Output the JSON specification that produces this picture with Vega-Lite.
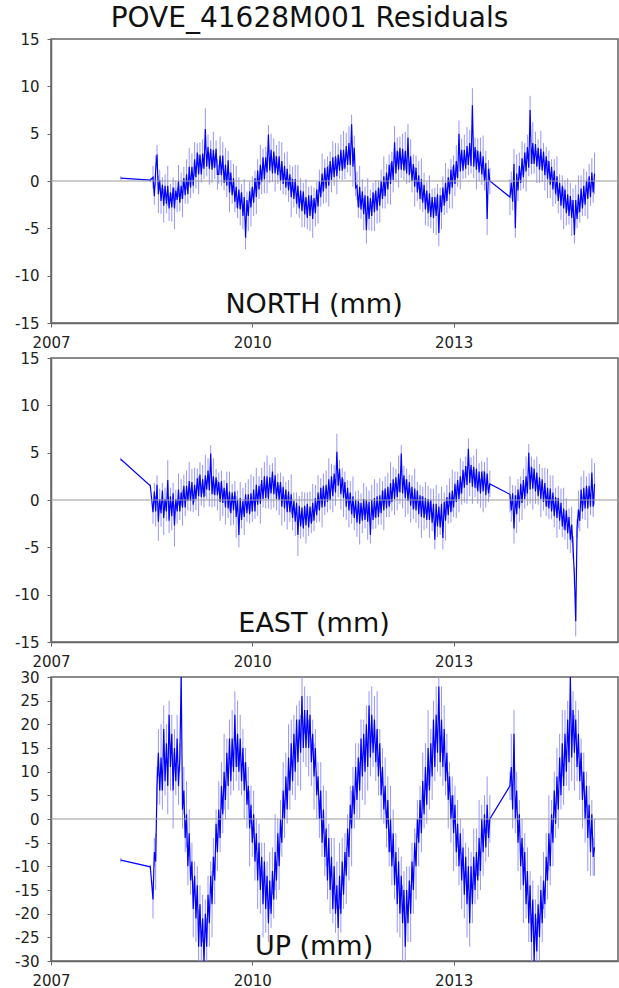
{
"$schema":"https://vega.github.io/schema/vega-lite/v6.json",
"padding":{"left":13,"top":5,"right":2,"bottom":0},
"title":{"text":"POVE_41628M001 Residuals","font":"DejaVu Sans","fontSize":28,"fontWeight":"normal","color":"#111","anchor":"middle","dx":-7,"baseline":"alphabetic","offset":-24},
"spacing":35,
"bounds":"flush",
"config":{
 "font":"DejaVu Sans",
 "view":{"stroke":"#666","strokeWidth":1.5},
 "axis":{"labelFont":"DejaVu Sans","labelFontSize":15,"labelColor":"#222","tickColor":"#666","tickWidth":1,"tickSize":4,"domainColor":"#666","domainWidth":1.5,"grid":false,"labelFlush":false,"title":null,"labelExpr":"replace(datum.label,'\u2212','-')"}
},
"datasets":{"gps":[
{"t":2008.04,"n":0.3,"e":4.3,"u":-8.7,"s":0.2,"v":0.5},
{"t":2008.48,"n":0.1,"e":1.5,"u":-10.1,"s":0.2,"v":0.5},
{"t":2008.52,"n":0.4,"e":-1.3,"u":-17,"s":1.2,"v":4},
{"t":2008.54,"n":-1.6,"e":0.9,"u":-7,"s":0.9,"v":3},
{"t":2008.56,"n":1.1,"e":-1.2,"u":-9,"s":1.6,"v":6},
{"t":2008.58,"n":2.8,"e":1.6,"u":7,"s":1.0,"v":4},
{"t":2008.60,"n":-1.4,"e":-2.3,"u":14,"s":2.0,"v":5},
{"t":2008.62,"n":0.1,"e":0.1,"u":6,"s":1.1,"v":3},
{"t":2008.64,"n":-2.1,"e":-1.4,"u":13,"s":1.4,"v":7},
{"t":2008.66,"n":-0.4,"e":1.0,"u":6,"s":0.8,"v":4},
{"t":2008.68,"n":-2.6,"e":-1.9,"u":19,"s":1.8,"v":5},
{"t":2008.70,"n":-0.5,"e":0.1,"u":8,"s":1.2,"v":3},
{"t":2008.72,"n":-2.4,"e":-1.2,"u":16,"s":1.0,"v":4},
{"t":2008.74,"n":-0.5,"e":2.1,"u":7,"s":2.1,"v":6},
{"t":2008.76,"n":-2.9,"e":-2.2,"u":22,"s":1.3,"v":3},
{"t":2008.78,"n":-1.2,"e":0.4,"u":11,"s":0.9,"v":5},
{"t":2008.80,"n":-2.8,"e":-1.7,"u":18,"s":1.5,"v":4},
{"t":2008.82,"n":-0.7,"e":0.7,"u":6,"s":1.1,"v":8},
{"t":2008.84,"n":-2.9,"e":-2.7,"u":15,"s":2.2,"v":4},
{"t":2008.86,"n":-1.0,"e":0.1,"u":8,"s":1.0,"v":3},
{"t":2008.88,"n":-2.0,"e":-1.2,"u":17,"s":1.3,"v":5},
{"t":2008.90,"n":0.0,"e":1.1,"u":7,"s":1.7,"v":4},
{"t":2008.92,"n":-2.3,"e":-1.2,"u":13,"s":0.9,"v":3},
{"t":2008.94,"n":-0.5,"e":0.8,"u":30,"s":1.4,"v":6},
{"t":2008.96,"n":-1.9,"e":-0.8,"u":2,"s":1.9,"v":4},
{"t":2008.98,"n":0.3,"e":1.5,"u":6,"s":1.2,"v":5},
{"t":2009.00,"n":-1.5,"e":-0.8,"u":-4,"s":0.9,"v":3},
{"t":2009.02,"n":0.7,"e":1.5,"u":1,"s":1.6,"v":7},
{"t":2009.04,"n":-1.4,"e":-0.1,"u":-10,"s":1.0,"v":4},
{"t":2009.06,"n":1.5,"e":2.0,"u":-3,"s":2.0,"v":5},
{"t":2009.08,"n":-0.7,"e":-0.1,"u":-13,"s":1.1,"v":3},
{"t":2009.10,"n":1.5,"e":1.9,"u":-9,"s":1.4,"v":4},
{"t":2009.12,"n":-0.5,"e":-0.5,"u":-19,"s":0.8,"v":6},
{"t":2009.14,"n":2.3,"e":1.6,"u":-12,"s":1.8,"v":3},
{"t":2009.16,"n":0.4,"e":0.1,"u":-21,"s":1.2,"v":5},
{"t":2009.18,"n":3.0,"e":2.3,"u":-14,"s":1.0,"v":4},
{"t":2009.20,"n":0.7,"e":0.4,"u":-27,"s":2.1,"v":8},
{"t":2009.22,"n":2.8,"e":2.7,"u":-18,"s":1.3,"v":4},
{"t":2009.24,"n":0.7,"e":0.3,"u":-27,"s":0.9,"v":3},
{"t":2009.26,"n":2.9,"e":2.2,"u":-21,"s":1.5,"v":5},
{"t":2009.28,"n":1.3,"e":0.3,"u":-30,"s":1.1,"v":4},
{"t":2009.30,"n":5.5,"e":2.6,"u":-20,"s":2.2,"v":3},
{"t":2009.32,"n":1.5,"e":1.1,"u":-27,"s":1.0,"v":6},
{"t":2009.34,"n":3.6,"e":3.1,"u":-16,"s":1.3,"v":4},
{"t":2009.36,"n":1.3,"e":1.0,"u":-22,"s":1.7,"v":5},
{"t":2009.38,"n":3.4,"e":4.9,"u":-12,"s":0.9,"v":3},
{"t":2009.40,"n":1.2,"e":0.6,"u":-18,"s":1.4,"v":7},
{"t":2009.42,"n":3.3,"e":2.5,"u":-8,"s":1.9,"v":4},
{"t":2009.44,"n":1.4,"e":0.5,"u":-13,"s":1.2,"v":5},
{"t":2009.46,"n":3.4,"e":2.4,"u":-1,"s":0.9,"v":3},
{"t":2009.48,"n":0.7,"e":0.5,"u":-7,"s":1.6,"v":4},
{"t":2009.50,"n":0.7,"e":1.9,"u":2,"s":1.0,"v":6},
{"t":2009.52,"n":2.7,"e":-0.2,"u":-4,"s":2.0,"v":3},
{"t":2009.54,"n":0.6,"e":2.0,"u":7,"s":1.1,"v":5},
{"t":2009.56,"n":2.7,"e":-0.3,"u":1,"s":1.4,"v":4},
{"t":2009.58,"n":-0.2,"e":1.3,"u":10,"s":0.8,"v":8},
{"t":2009.60,"n":1.7,"e":-0.8,"u":4,"s":1.8,"v":4},
{"t":2009.62,"n":-0.5,"e":1.8,"u":14,"s":1.2,"v":3},
{"t":2009.64,"n":2.2,"e":-0.9,"u":7,"s":1.0,"v":5},
{"t":2009.66,"n":-1.2,"e":0.9,"u":17,"s":2.1,"v":4},
{"t":2009.68,"n":0.9,"e":-1.4,"u":8,"s":1.3,"v":3},
{"t":2009.70,"n":-1.5,"e":0.8,"u":17,"s":0.9,"v":6},
{"t":2009.72,"n":0.3,"e":-1.1,"u":10,"s":1.5,"v":4},
{"t":2009.74,"n":-2.2,"e":0.9,"u":22,"s":1.1,"v":5},
{"t":2009.76,"n":-0.6,"e":-1.8,"u":11,"s":2.2,"v":3},
{"t":2009.78,"n":-2.9,"e":0.0,"u":18,"s":1.0,"v":7},
{"t":2009.80,"n":-0.9,"e":-3.7,"u":10,"s":1.3,"v":4},
{"t":2009.82,"n":-3.0,"e":0.2,"u":17,"s":1.7,"v":5},
{"t":2009.84,"n":-1.2,"e":-2.1,"u":8,"s":0.9,"v":3},
{"t":2009.86,"n":-3.7,"e":-0.1,"u":15,"s":1.4,"v":4},
{"t":2009.88,"n":-1.7,"e":-1.8,"u":6,"s":1.9,"v":6},
{"t":2009.90,"n":-6.0,"e":0.6,"u":12,"s":1.2,"v":3},
{"t":2009.92,"n":-2.0,"e":-1.4,"u":3,"s":0.9,"v":5},
{"t":2009.94,"n":-3.7,"e":0.6,"u":7,"s":1.6,"v":4},
{"t":2009.96,"n":-1.1,"e":-1.5,"u":-2,"s":1.0,"v":8},
{"t":2009.98,"n":-2.8,"e":0.7,"u":3,"s":2.0,"v":4},
{"t":2010.00,"n":-0.6,"e":-1.2,"u":-5,"s":1.1,"v":3},
{"t":2010.02,"n":-2.3,"e":1.1,"u":1,"s":1.4,"v":5},
{"t":2010.04,"n":0.3,"e":-1.2,"u":-9,"s":0.8,"v":4},
{"t":2010.06,"n":-1.7,"e":1.6,"u":-3,"s":1.8,"v":3},
{"t":2010.08,"n":1.1,"e":-0.5,"u":-13,"s":1.2,"v":6},
{"t":2010.10,"n":-0.9,"e":1.5,"u":-5,"s":1.0,"v":4},
{"t":2010.12,"n":1.7,"e":-0.4,"u":-15,"s":2.1,"v":5},
{"t":2010.14,"n":-0.1,"e":2.1,"u":-8,"s":1.3,"v":3},
{"t":2010.16,"n":2.5,"e":0.1,"u":-18,"s":0.9,"v":7},
{"t":2010.18,"n":0.2,"e":2.5,"u":-9,"s":1.5,"v":4},
{"t":2010.20,"n":2.5,"e":0.2,"u":-19,"s":1.1,"v":5},
{"t":2010.22,"n":0.9,"e":2.5,"u":-12,"s":2.2,"v":3},
{"t":2010.24,"n":4.9,"e":0.1,"u":-22,"s":1.0,"v":4},
{"t":2010.26,"n":1.1,"e":2.4,"u":-13,"s":1.3,"v":6},
{"t":2010.28,"n":3.3,"e":0.7,"u":-20,"s":1.7,"v":3},
{"t":2010.30,"n":0.8,"e":3.0,"u":-11,"s":0.9,"v":5},
{"t":2010.32,"n":3.1,"e":0.6,"u":-17,"s":1.4,"v":4},
{"t":2010.34,"n":0.8,"e":2.6,"u":-7,"s":1.9,"v":8},
{"t":2010.36,"n":2.6,"e":0.1,"u":-13,"s":1.2,"v":4},
{"t":2010.38,"n":0.6,"e":1.9,"u":-3,"s":0.9,"v":3},
{"t":2010.40,"n":2.6,"e":0.0,"u":-10,"s":1.6,"v":5},
{"t":2010.42,"n":0.0,"e":1.9,"u":0,"s":1.0,"v":4},
{"t":2010.44,"n":2.1,"e":-0.7,"u":-5,"s":2.0,"v":3},
{"t":2010.46,"n":-0.3,"e":1.4,"u":6,"s":1.1,"v":6},
{"t":2010.48,"n":1.6,"e":-0.9,"u":0,"s":1.4,"v":4},
{"t":2010.50,"n":-0.7,"e":1.1,"u":9,"s":0.8,"v":5},
{"t":2010.52,"n":1.3,"e":-1.3,"u":2,"s":1.8,"v":3},
{"t":2010.54,"n":-1.0,"e":0.9,"u":13,"s":1.2,"v":7},
{"t":2010.56,"n":0.7,"e":-1.3,"u":6,"s":1.0,"v":4},
{"t":2010.58,"n":-1.7,"e":0.6,"u":16,"s":2.1,"v":5},
{"t":2010.60,"n":0.2,"e":-1.9,"u":8,"s":1.3,"v":3},
{"t":2010.62,"n":-1.9,"e":-0.1,"u":18,"s":0.9,"v":4},
{"t":2010.64,"n":0.2,"e":-2.3,"u":10,"s":1.5,"v":6},
{"t":2010.66,"n":-2.4,"e":-0.3,"u":21,"s":1.1,"v":3},
{"t":2010.68,"n":-0.5,"e":-3.7,"u":12,"s":2.2,"v":5},
{"t":2010.70,"n":-2.9,"e":-0.6,"u":21,"s":1.0,"v":4},
{"t":2010.72,"n":-1.0,"e":-2.8,"u":14,"s":1.3,"v":8},
{"t":2010.74,"n":-3.2,"e":-0.8,"u":26,"s":1.7,"v":4},
{"t":2010.76,"n":-1.1,"e":-3.0,"u":15,"s":0.9,"v":3},
{"t":2010.78,"n":-3.5,"e":-0.6,"u":23,"s":1.4,"v":5},
{"t":2010.80,"n":-1.7,"e":-2.7,"u":15,"s":1.9,"v":4},
{"t":2010.82,"n":-3.9,"e":-0.4,"u":23,"s":1.2,"v":3},
{"t":2010.84,"n":-1.5,"e":-2.9,"u":15,"s":0.9,"v":6},
{"t":2010.86,"n":-3.7,"e":-0.7,"u":22,"s":1.6,"v":4},
{"t":2010.88,"n":-1.5,"e":-2.5,"u":12,"s":1.0,"v":5},
{"t":2010.90,"n":-4.0,"e":-0.3,"u":18,"s":2.0,"v":3},
{"t":2010.92,"n":-1.8,"e":-2.2,"u":9,"s":1.1,"v":7},
{"t":2010.94,"n":-3.4,"e":0.2,"u":15,"s":1.4,"v":4},
{"t":2010.96,"n":-0.9,"e":-1.6,"u":5,"s":0.8,"v":5},
{"t":2010.98,"n":-2.7,"e":0.8,"u":9,"s":1.8,"v":3},
{"t":2011.00,"n":0.0,"e":-1.1,"u":0,"s":1.2,"v":4},
{"t":2011.02,"n":-1.7,"e":1.3,"u":6,"s":1.0,"v":6},
{"t":2011.04,"n":0.8,"e":-0.8,"u":-5,"s":2.1,"v":3},
{"t":2011.06,"n":-1.1,"e":1.5,"u":2,"s":1.3,"v":5},
{"t":2011.08,"n":1.4,"e":-0.7,"u":-8,"s":0.9,"v":4},
{"t":2011.10,"n":-0.8,"e":1.6,"u":-2,"s":1.5,"v":8},
{"t":2011.12,"n":1.5,"e":-0.2,"u":-13,"s":1.1,"v":4},
{"t":2011.14,"n":-0.5,"e":2.2,"u":-4,"s":2.2,"v":3},
{"t":2011.16,"n":2.1,"e":0.0,"u":-15,"s":1.0,"v":5},
{"t":2011.18,"n":0.1,"e":2.5,"u":-8,"s":1.3,"v":4},
{"t":2011.20,"n":2.5,"e":0.4,"u":-19,"s":1.7,"v":3},
{"t":2011.22,"n":0.4,"e":2.8,"u":-10,"s":0.9,"v":6},
{"t":2011.24,"n":2.6,"e":0.8,"u":-20,"s":1.4,"v":4},
{"t":2011.26,"n":0.5,"e":5.1,"u":-14,"s":1.9,"v":5},
{"t":2011.28,"n":2.8,"e":1.5,"u":-23,"s":1.2,"v":3},
{"t":2011.30,"n":1.1,"e":3.3,"u":-12,"s":0.9,"v":7},
{"t":2011.32,"n":3.3,"e":0.6,"u":-20,"s":1.6,"v":4},
{"t":2011.34,"n":1.1,"e":2.4,"u":-9,"s":1.0,"v":5},
{"t":2011.36,"n":3.3,"e":0.2,"u":-16,"s":2.0,"v":3},
{"t":2011.38,"n":1.3,"e":1.9,"u":-7,"s":1.1,"v":4},
{"t":2011.40,"n":3.7,"e":-0.7,"u":-12,"s":1.4,"v":6},
{"t":2011.42,"n":1.7,"e":1.3,"u":-2,"s":0.8,"v":3},
{"t":2011.44,"n":4.0,"e":-1.1,"u":-8,"s":1.8,"v":5},
{"t":2011.46,"n":1.7,"e":0.8,"u":3,"s":1.2,"v":4},
{"t":2011.48,"n":6.0,"e":-1.5,"u":-2,"s":1.0,"v":8},
{"t":2011.50,"n":1.5,"e":0.4,"u":7,"s":2.1,"v":4},
{"t":2011.52,"n":3.5,"e":-1.9,"u":1,"s":1.3,"v":3},
{"t":2011.54,"n":-0.7,"e":0.0,"u":11,"s":0.9,"v":5},
{"t":2011.56,"n":-0.5,"e":-2.4,"u":4,"s":1.5,"v":4},
{"t":2011.58,"n":-2.8,"e":-0.1,"u":13,"s":1.1,"v":3},
{"t":2011.60,"n":-0.6,"e":-2.5,"u":6,"s":2.2,"v":6},
{"t":2011.62,"n":-3.0,"e":-0.3,"u":17,"s":1.0,"v":4},
{"t":2011.64,"n":-1.1,"e":-2.2,"u":9,"s":1.3,"v":5},
{"t":2011.66,"n":-3.5,"e":0.1,"u":18,"s":1.7,"v":3},
{"t":2011.68,"n":-1.5,"e":-2.1,"u":10,"s":0.9,"v":7},
{"t":2011.70,"n":-5.2,"e":0.0,"u":20,"s":1.4,"v":4},
{"t":2011.72,"n":-1.6,"e":-2.3,"u":11,"s":1.9,"v":5},
{"t":2011.74,"n":-4.0,"e":-0.2,"u":24,"s":1.2,"v":3},
{"t":2011.76,"n":-1.8,"e":-3.7,"u":13,"s":0.9,"v":4},
{"t":2011.78,"n":-3.7,"e":0.0,"u":22,"s":1.6,"v":6},
{"t":2011.80,"n":-1.2,"e":-2.1,"u":14,"s":1.0,"v":3},
{"t":2011.82,"n":-3.3,"e":0.2,"u":21,"s":2.0,"v":5},
{"t":2011.84,"n":-1.0,"e":-1.9,"u":12,"s":1.1,"v":4},
{"t":2011.86,"n":-3.1,"e":0.4,"u":19,"s":1.4,"v":8},
{"t":2011.88,"n":-0.7,"e":-1.8,"u":9,"s":0.8,"v":4},
{"t":2011.90,"n":-2.6,"e":0.5,"u":16,"s":1.8,"v":3},
{"t":2011.92,"n":0.0,"e":-1.4,"u":5,"s":1.2,"v":5},
{"t":2011.94,"n":-1.9,"e":1.0,"u":11,"s":1.0,"v":4},
{"t":2011.96,"n":0.5,"e":-1.1,"u":2,"s":2.1,"v":3},
{"t":2011.98,"n":-1.6,"e":1.2,"u":7,"s":1.3,"v":6},
{"t":2012.00,"n":0.9,"e":-0.9,"u":-2,"s":0.9,"v":4},
{"t":2012.02,"n":-0.9,"e":1.4,"u":4,"s":1.5,"v":5},
{"t":2012.04,"n":1.7,"e":-0.7,"u":-7,"s":1.1,"v":3},
{"t":2012.06,"n":-0.3,"e":1.8,"u":0,"s":2.2,"v":7},
{"t":2012.08,"n":2.1,"e":-0.2,"u":-10,"s":1.0,"v":4},
{"t":2012.10,"n":0.1,"e":2.2,"u":-3,"s":1.3,"v":5},
{"t":2012.12,"n":4.1,"e":0.1,"u":-14,"s":1.7,"v":3},
{"t":2012.14,"n":0.8,"e":2.4,"u":-7,"s":0.9,"v":4},
{"t":2012.16,"n":3.2,"e":0.3,"u":-18,"s":1.4,"v":6},
{"t":2012.18,"n":1.2,"e":2.8,"u":-9,"s":1.9,"v":3},
{"t":2012.20,"n":3.5,"e":0.8,"u":-20,"s":1.2,"v":5},
{"t":2012.22,"n":1.2,"e":4.9,"u":-12,"s":0.9,"v":4},
{"t":2012.24,"n":3.4,"e":0.7,"u":-22,"s":1.6,"v":8},
{"t":2012.26,"n":1.1,"e":2.6,"u":-15,"s":1.0,"v":4},
{"t":2012.28,"n":3.2,"e":0.2,"u":-27,"s":2.0,"v":3},
{"t":2012.30,"n":0.8,"e":2.2,"u":-15,"s":1.1,"v":5},
{"t":2012.32,"n":4.6,"e":-0.1,"u":-22,"s":1.4,"v":4},
{"t":2012.34,"n":0.6,"e":1.9,"u":-13,"s":0.8,"v":3},
{"t":2012.36,"n":2.6,"e":-0.6,"u":-20,"s":1.8,"v":6},
{"t":2012.38,"n":0.0,"e":1.4,"u":-9,"s":1.2,"v":4},
{"t":2012.40,"n":1.8,"e":-1.0,"u":-15,"s":1.0,"v":5},
{"t":2012.42,"n":-0.6,"e":1.2,"u":-5,"s":2.1,"v":3},
{"t":2012.44,"n":1.4,"e":-1.1,"u":-10,"s":1.3,"v":7},
{"t":2012.46,"n":-1.2,"e":1.0,"u":0,"s":0.9,"v":4},
{"t":2012.48,"n":0.6,"e":-1.5,"u":-5,"s":1.5,"v":5},
{"t":2012.50,"n":-1.9,"e":0.5,"u":4,"s":1.1,"v":3},
{"t":2012.52,"n":0.2,"e":-1.8,"u":-3,"s":2.2,"v":4},
{"t":2012.54,"n":-2.3,"e":0.4,"u":8,"s":1.0,"v":6},
{"t":2012.56,"n":-0.4,"e":-1.9,"u":1,"s":1.3,"v":3},
{"t":2012.58,"n":-3.0,"e":0.2,"u":11,"s":1.7,"v":5},
{"t":2012.60,"n":-1.0,"e":-2.1,"u":3,"s":0.9,"v":4},
{"t":2012.62,"n":-3.4,"e":0.1,"u":15,"s":1.4,"v":8},
{"t":2012.64,"n":-1.3,"e":-2.1,"u":6,"s":1.9,"v":4},
{"t":2012.66,"n":-3.8,"e":0.0,"u":16,"s":1.2,"v":3},
{"t":2012.68,"n":-1.7,"e":-2.4,"u":9,"s":0.9,"v":5},
{"t":2012.70,"n":-3.9,"e":-0.4,"u":21,"s":1.6,"v":4},
{"t":2012.72,"n":-1.7,"e":-4.2,"u":11,"s":1.0,"v":3},
{"t":2012.74,"n":-3.7,"e":-0.4,"u":22,"s":2.0,"v":6},
{"t":2012.76,"n":-1.4,"e":-2.8,"u":14,"s":1.1,"v":4},
{"t":2012.78,"n":-5.5,"e":-0.7,"u":28,"s":1.4,"v":5},
{"t":2012.80,"n":-1.5,"e":-2.9,"u":12,"s":0.8,"v":3},
{"t":2012.82,"n":-3.3,"e":-0.4,"u":21,"s":1.8,"v":7},
{"t":2012.84,"n":-0.7,"e":-4.0,"u":11,"s":1.2,"v":4},
{"t":2012.86,"n":-2.6,"e":-0.2,"u":19,"s":1.0,"v":5},
{"t":2012.88,"n":-0.2,"e":-2.2,"u":8,"s":2.1,"v":3},
{"t":2012.90,"n":-2.1,"e":0.3,"u":14,"s":1.3,"v":4},
{"t":2012.92,"n":0.4,"e":-1.6,"u":4,"s":0.9,"v":6},
{"t":2012.94,"n":-1.4,"e":0.8,"u":9,"s":1.5,"v":3},
{"t":2012.96,"n":1.2,"e":-1.3,"u":0,"s":1.1,"v":5},
{"t":2012.98,"n":-0.7,"e":1.0,"u":5,"s":2.2,"v":4},
{"t":2013.00,"n":1.7,"e":-0.8,"u":-3,"s":1.0,"v":8},
{"t":2013.02,"n":-0.3,"e":1.7,"u":3,"s":1.3,"v":4},
{"t":2013.04,"n":2.1,"e":-0.2,"u":-7,"s":1.7,"v":3},
{"t":2013.06,"n":0.3,"e":2.1,"u":-1,"s":0.9,"v":5},
{"t":2013.08,"n":5.0,"e":0.1,"u":-10,"s":1.4,"v":4},
{"t":2013.10,"n":1.0,"e":2.5,"u":-3,"s":1.9,"v":3},
{"t":2013.12,"n":3.3,"e":0.7,"u":-13,"s":1.2,"v":6},
{"t":2013.14,"n":1.1,"e":3.2,"u":-6,"s":0.9,"v":4},
{"t":2013.16,"n":3.3,"e":1.3,"u":-16,"s":1.6,"v":5},
{"t":2013.18,"n":1.3,"e":3.6,"u":-8,"s":1.0,"v":3},
{"t":2013.20,"n":3.7,"e":1.6,"u":-18,"s":2.0,"v":7},
{"t":2013.22,"n":1.7,"e":5.4,"u":-10,"s":1.1,"v":4},
{"t":2013.24,"n":4.0,"e":1.8,"u":-22,"s":1.4,"v":5},
{"t":2013.26,"n":1.6,"e":3.7,"u":-10,"s":0.8,"v":3},
{"t":2013.28,"n":8.0,"e":1.4,"u":-18,"s":1.8,"v":4},
{"t":2013.30,"n":1.5,"e":3.5,"u":-8,"s":1.2,"v":6},
{"t":2013.32,"n":3.6,"e":1.3,"u":-15,"s":1.0,"v":3},
{"t":2013.34,"n":1.2,"e":3.3,"u":-7,"s":2.1,"v":5},
{"t":2013.36,"n":3.2,"e":0.9,"u":-13,"s":1.3,"v":4},
{"t":2013.38,"n":0.9,"e":3.0,"u":-4,"s":0.9,"v":8},
{"t":2013.40,"n":3.1,"e":0.7,"u":-11,"s":1.5,"v":4},
{"t":2013.42,"n":0.7,"e":3.0,"u":0,"s":1.1,"v":3},
{"t":2013.44,"n":2.6,"e":0.9,"u":-7,"s":2.2,"v":5},
{"t":2013.46,"n":0.0,"e":3.0,"u":1,"s":1.0,"v":4},
{"t":2013.48,"n":1.9,"e":0.5,"u":-6,"s":1.3,"v":3},
{"t":2013.50,"n":-4.0,"e":2.8,"u":3,"s":1.7,"v":6},
{"t":2013.52,"n":1.3,"e":0.7,"u":-4,"s":0.9,"v":4},
{"t":2013.54,"n":0.0,"e":1.7,"u":0,"s":1.4,"v":5},
{"t":2013.84,"n":-1.7,"e":0.6,"u":7,"s":1.9,"v":3},
{"t":2013.86,"n":-0.2,"e":-1.1,"u":11,"s":1.2,"v":7},
{"t":2013.88,"n":-2.2,"e":0.7,"u":2,"s":0.9,"v":4},
{"t":2013.90,"n":1.8,"e":-3.0,"u":18,"s":1.6,"v":5},
{"t":2013.92,"n":-5.0,"e":0.5,"u":0,"s":1.0,"v":3},
{"t":2013.94,"n":0.8,"e":-1.5,"u":6,"s":2.0,"v":4},
{"t":2013.96,"n":-1.0,"e":1.1,"u":-5,"s":1.1,"v":6},
{"t":2013.98,"n":1.6,"e":-0.9,"u":1,"s":1.4,"v":3},
{"t":2014.00,"n":-0.2,"e":1.7,"u":-10,"s":0.8,"v":5},
{"t":2014.02,"n":2.4,"e":-0.3,"u":-4,"s":1.8,"v":4},
{"t":2014.04,"n":0.4,"e":2.1,"u":-14,"s":1.2,"v":8},
{"t":2014.06,"n":3.0,"e":0.1,"u":-7,"s":1.0,"v":4},
{"t":2014.08,"n":1.0,"e":2.5,"u":-18,"s":2.1,"v":3},
{"t":2014.10,"n":3.6,"e":0.7,"u":-11,"s":1.3,"v":5},
{"t":2014.12,"n":1.4,"e":5.0,"u":-22,"s":0.9,"v":4},
{"t":2014.14,"n":7.5,"e":1.1,"u":-14,"s":1.5,"v":3},
{"t":2014.16,"n":1.8,"e":3.5,"u":-26,"s":1.1,"v":6},
{"t":2014.18,"n":4.0,"e":1.2,"u":-17,"s":2.2,"v":4},
{"t":2014.20,"n":1.8,"e":3.3,"u":-30,"s":1.0,"v":5},
{"t":2014.22,"n":3.9,"e":0.9,"u":-20,"s":1.3,"v":3},
{"t":2014.24,"n":1.5,"e":2.9,"u":-28,"s":1.7,"v":7},
{"t":2014.26,"n":3.5,"e":0.4,"u":-18,"s":0.9,"v":4},
{"t":2014.28,"n":1.2,"e":2.4,"u":-25,"s":1.4,"v":5},
{"t":2014.30,"n":3.4,"e":0.1,"u":-15,"s":1.9,"v":3},
{"t":2014.32,"n":1.1,"e":2.2,"u":-22,"s":1.2,"v":4},
{"t":2014.34,"n":3.1,"e":-0.2,"u":-13,"s":0.9,"v":6},
{"t":2014.36,"n":0.6,"e":1.8,"u":-18,"s":1.6,"v":3},
{"t":2014.38,"n":2.6,"e":-0.7,"u":-8,"s":1.0,"v":5},
{"t":2014.40,"n":0.2,"e":1.3,"u":-13,"s":2.0,"v":4},
{"t":2014.42,"n":2.1,"e":-0.9,"u":-3,"s":1.1,"v":8},
{"t":2014.44,"n":-0.4,"e":1.2,"u":-10,"s":1.4,"v":4},
{"t":2014.46,"n":1.5,"e":-1.2,"u":1,"s":0.8,"v":3},
{"t":2014.48,"n":-0.9,"e":0.8,"u":-5,"s":1.8,"v":5},
{"t":2014.50,"n":1.1,"e":-1.7,"u":6,"s":1.2,"v":4},
{"t":2014.52,"n":-1.4,"e":0.3,"u":-1,"s":1.0,"v":3},
{"t":2014.54,"n":0.5,"e":-1.9,"u":9,"s":2.1,"v":6},
{"t":2014.56,"n":-2.1,"e":0.2,"u":2,"s":1.3,"v":4},
{"t":2014.58,"n":-0.2,"e":-2.2,"u":13,"s":0.9,"v":5},
{"t":2014.60,"n":-2.6,"e":-0.3,"u":5,"s":1.5,"v":3},
{"t":2014.62,"n":-0.5,"e":-2.8,"u":16,"s":1.1,"v":7},
{"t":2014.64,"n":-2.9,"e":-0.9,"u":7,"s":2.2,"v":4},
{"t":2014.66,"n":-0.9,"e":-3.2,"u":18,"s":1.0,"v":5},
{"t":2014.68,"n":-3.4,"e":-1.1,"u":10,"s":1.3,"v":3},
{"t":2014.70,"n":-1.4,"e":-3.5,"u":21,"s":1.7,"v":4},
{"t":2014.72,"n":-3.7,"e":-1.8,"u":12,"s":0.9,"v":6},
{"t":2014.74,"n":-1.6,"e":-4.2,"u":30,"s":1.4,"v":3},
{"t":2014.76,"n":-3.9,"e":-2.6,"u":13,"s":1.9,"v":5},
{"t":2014.78,"n":-2.0,"e":-5.0,"u":23,"s":1.2,"v":4},
{"t":2014.80,"n":-5.7,"e":-8.0,"u":14,"s":0.9,"v":8},
{"t":2014.82,"n":-2.0,"e":-12.8,"u":21,"s":1.6,"v":4},
{"t":2014.84,"n":-4.0,"e":-3.0,"u":11,"s":1.0,"v":3},
{"t":2014.86,"n":-1.4,"e":-1.0,"u":18,"s":2.0,"v":5},
{"t":2014.88,"n":-3.3,"e":-2.2,"u":8,"s":1.1,"v":4},
{"t":2014.90,"n":-0.8,"e":1.1,"u":14,"s":1.4,"v":3},
{"t":2014.92,"n":-2.9,"e":-1.2,"u":4,"s":0.8,"v":6},
{"t":2014.94,"n":-0.5,"e":1.3,"u":10,"s":1.8,"v":4},
{"t":2014.96,"n":-2.5,"e":-0.9,"u":0,"s":1.2,"v":5},
{"t":2014.98,"n":0.0,"e":1.5,"u":7,"s":1.0,"v":3},
{"t":2015.00,"n":-1.9,"e":-0.9,"u":-4,"s":2.1,"v":7},
{"t":2015.02,"n":0.5,"e":1.5,"u":3,"s":1.3,"v":4},
{"t":2015.04,"n":-1.7,"e":-0.7,"u":-7,"s":0.9,"v":5},
{"t":2015.06,"n":0.9,"e":2.9,"u":1,"s":1.5,"v":3},
{"t":2015.08,"n":-1.2,"e":-0.7,"u":-8,"s":1.1,"v":4},
{"t":2015.10,"n":0.8,"e":1.7,"u":-6,"s":2.2,"v":6}
]},
"vconcat":[
{"width":567,"height":284,"layer":[
 {"data":{"name":"gps"},"mark":{"type":"errorbar","color":"#9696ff","thickness":1},
  "encoding":{"x":{"field":"t","type":"quantitative","title":null,"scale":{"domain":[2007,2015.45],"nice":false,"zero":false},"axis":{"title":null,"values":[2007,2010,2013],"format":"d","labelPadding":8}},
   "y":{"field":"n","type":"quantitative","title":null,"scale":{"domain":[-15,15],"nice":false,"clamp":true},"axis":{"title":null,"values":[-15,-10,-5,0,5,10,15],"labelPadding":8}},
   "yError":{"field":"s"}}},
 {"data":{"name":"gps"},"mark":{"type":"line","color":"#0000ff","strokeWidth":1.2,"clip":true},
  "encoding":{"x":{"field":"t","type":"quantitative","title":null,"axis":{"title":null,"values":[2007,2010,2013],"format":"d","labelPadding":8}},
   "y":{"field":"n","type":"quantitative","title":null,"axis":{"title":null,"values":[-15,-10,-5,0,5,10,15],"labelPadding":8}}}},
 {"data":{"values":[{"z":0}]},"mark":{"type":"rule","color":"#999","strokeWidth":1},
  "encoding":{"y":{"field":"z","type":"quantitative","title":null,"axis":{"title":null,"values":[-15,-10,-5,0,5,10,15],"labelPadding":8}}}},
 {"data":{"values":[{"label":"NORTH (mm)"}]},"mark":{"type":"text","font":"DejaVu Sans","fontSize":27,"color":"#111","align":"center","baseline":"alphabetic"},
  "encoding":{"x":{"datum":2010.92,"type":"quantitative","title":null,"axis":{"title":null,"values":[2007,2010,2013],"format":"d","labelPadding":8}},"y":{"datum":-13.95,"type":"quantitative","title":null,"axis":{"title":null,"values":[-15,-10,-5,0,5,10,15],"labelPadding":8}},"text":{"field":"label"}}}
]},
{"width":567,"height":284,"layer":[
 {"data":{"name":"gps"},"mark":{"type":"errorbar","color":"#9696ff","thickness":1},
  "encoding":{"x":{"field":"t","type":"quantitative","title":null,"scale":{"domain":[2007,2015.45],"nice":false,"zero":false},"axis":{"title":null,"values":[2007,2010,2013],"format":"d","labelPadding":8}},
   "y":{"field":"e","type":"quantitative","title":null,"scale":{"domain":[-15,15],"nice":false,"clamp":true},"axis":{"title":null,"values":[-15,-10,-5,0,5,10,15],"labelPadding":8}},
   "yError":{"field":"s"}}},
 {"data":{"name":"gps"},"mark":{"type":"line","color":"#0000ff","strokeWidth":1.2,"clip":true},
  "encoding":{"x":{"field":"t","type":"quantitative","title":null,"axis":{"title":null,"values":[2007,2010,2013],"format":"d","labelPadding":8}},
   "y":{"field":"e","type":"quantitative","title":null,"axis":{"title":null,"values":[-15,-10,-5,0,5,10,15],"labelPadding":8}}}},
 {"data":{"values":[{"z":0}]},"mark":{"type":"rule","color":"#999","strokeWidth":1},
  "encoding":{"y":{"field":"z","type":"quantitative","title":null,"axis":{"title":null,"values":[-15,-10,-5,0,5,10,15],"labelPadding":8}}}},
 {"data":{"values":[{"label":"EAST (mm)"}]},"mark":{"type":"text","font":"DejaVu Sans","fontSize":27,"color":"#111","align":"center","baseline":"alphabetic"},
  "encoding":{"x":{"datum":2010.92,"type":"quantitative","title":null,"axis":{"title":null,"values":[2007,2010,2013],"format":"d","labelPadding":8}},"y":{"datum":-13.95,"type":"quantitative","title":null,"axis":{"title":null,"values":[-15,-10,-5,0,5,10,15],"labelPadding":8}},"text":{"field":"label"}}}
]},
{"width":567,"height":284,"layer":[
 {"data":{"name":"gps"},"mark":{"type":"errorbar","color":"#9696ff","thickness":1},
  "encoding":{"x":{"field":"t","type":"quantitative","title":null,"scale":{"domain":[2007,2015.45],"nice":false,"zero":false},"axis":{"title":null,"values":[2007,2010,2013],"format":"d","labelPadding":8}},
   "y":{"field":"u","type":"quantitative","title":null,"scale":{"domain":[-30,30],"nice":false,"clamp":true},"axis":{"title":null,"values":[-30,-25,-20,-15,-10,-5,0,5,10,15,20,25,30],"labelPadding":8}},
   "yError":{"field":"v"}}},
 {"data":{"name":"gps"},"mark":{"type":"line","color":"#0000ff","strokeWidth":1.2,"clip":true},
  "encoding":{"x":{"field":"t","type":"quantitative","title":null,"axis":{"title":null,"values":[2007,2010,2013],"format":"d","labelPadding":8}},
   "y":{"field":"u","type":"quantitative","title":null,"axis":{"title":null,"values":[-30,-25,-20,-15,-10,-5,0,5,10,15,20,25,30],"labelPadding":8}}}},
 {"data":{"values":[{"z":0}]},"mark":{"type":"rule","color":"#999","strokeWidth":1},
  "encoding":{"y":{"field":"z","type":"quantitative","title":null,"axis":{"title":null,"values":[-30,-25,-20,-15,-10,-5,0,5,10,15,20,25,30],"labelPadding":8}}}},
 {"data":{"values":[{"label":"UP (mm)"}]},"mark":{"type":"text","font":"DejaVu Sans","fontSize":27,"color":"#111","align":"center","baseline":"alphabetic"},
  "encoding":{"x":{"datum":2010.92,"type":"quantitative","title":null,"axis":{"title":null,"values":[2007,2010,2013],"format":"d","labelPadding":8}},"y":{"datum":-28.75,"type":"quantitative","title":null,"axis":{"title":null,"values":[-30,-25,-20,-15,-10,-5,0,5,10,15,20,25,30],"labelPadding":8}},"text":{"field":"label"}}}
]}
]
}
